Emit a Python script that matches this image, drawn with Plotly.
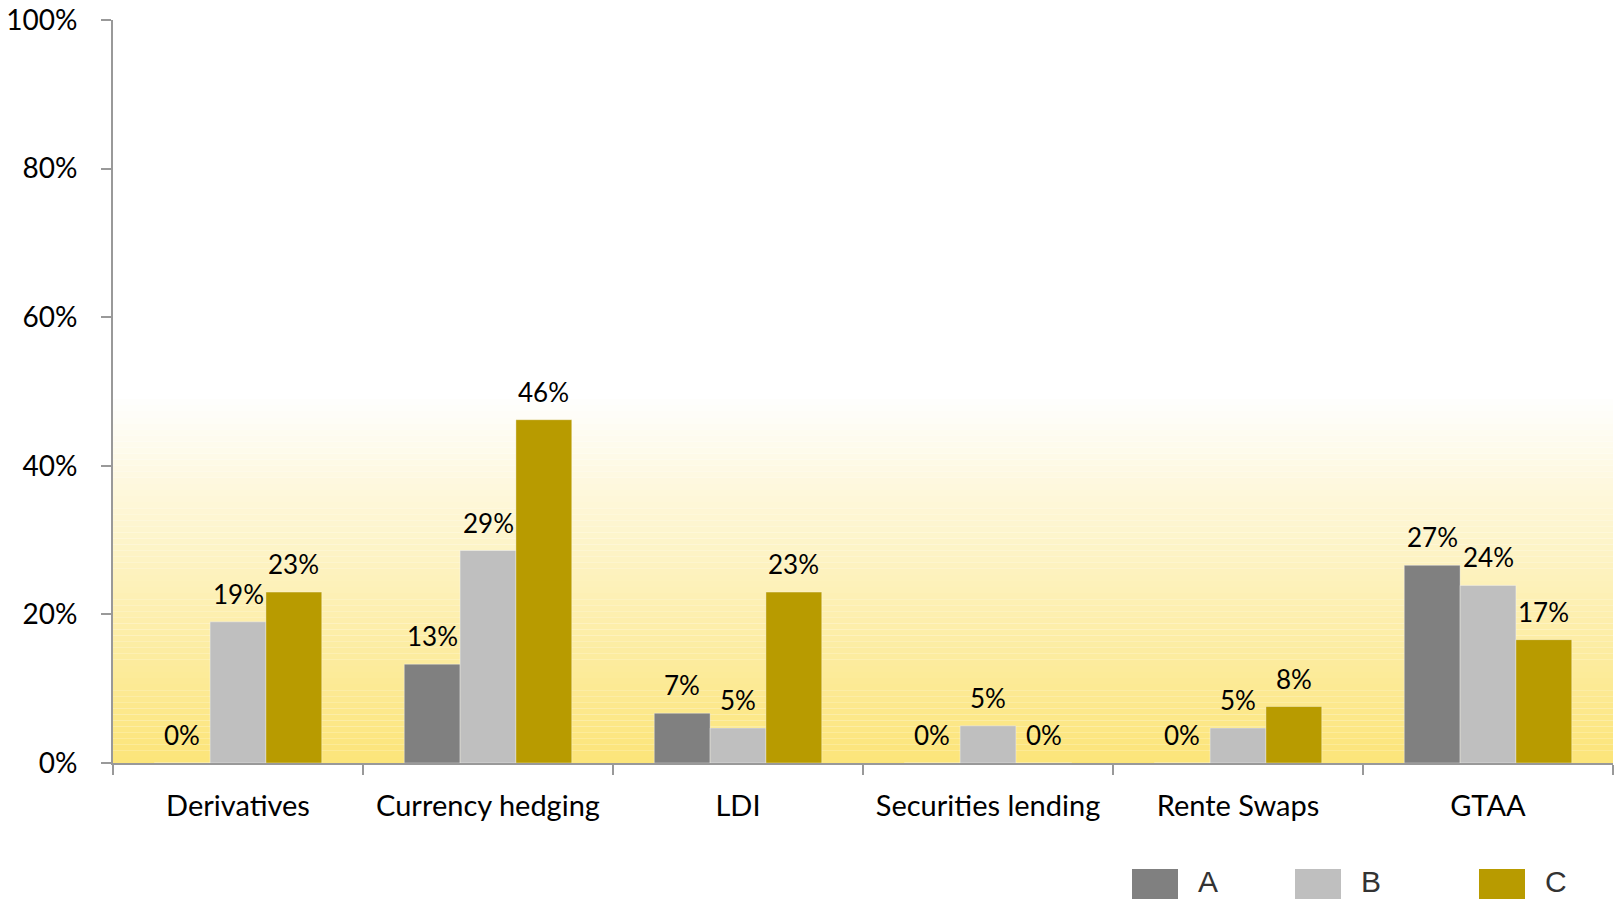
import plotly.graph_objects as go

categories = ['Derivatives', 'Currency hedging', 'LDI', 'Securities lending', 'Rente Swaps', 'GTAA']
series_names = ['A', 'B', 'C']
series_a = [0.0, 0.133, 0.067, 0.0, 0.0, 0.266]
series_b = [0.190, 0.286, 0.047, 0.050, 0.047, 0.239]
series_c = [0.230, 0.462, 0.230, 0.0, 0.076, 0.166]
y_ticks = [0, 0.2, 0.4, 0.6, 0.8, 1.0]
y_tick_text = ['0%', '20%', '40%', '60%', '80%', '100%']

colors = ['#808080', '#BFBFBF', '#B89B00']
font_family = 'Lato, Calibri, sans-serif'

W, H = 1618, 899
ml, mr, mt, mb = 113, 5, 20, 136
plot_w = W - ml - mr
plot_h = H - mt - mb
bargap = 0.33
bar_px = plot_w / len(categories) * (1 - bargap) / 3

fig = go.Figure()
for k, (name, vals) in enumerate(zip(series_names, [series_a, series_b, series_c])):
    fig.add_trace(go.Bar(
        x=categories, y=vals, name=name, showlegend=False,
        marker=dict(color=colors[k], line=dict(color='rgba(255,255,255,0.35)', width=1)),
    ))
    # value labels sitting a bit above each bar
    for cat, v in zip(categories, vals):
        fig.add_annotation(x=cat, y=v, text=f'{v:.0%}', showarrow=False,
                           xshift=(k - 1) * bar_px, yshift=28, yanchor='middle',
                           font=dict(family=font_family, size=26, color='black'))

# yellow gradient background in the lower half of the plot
steps = 60
top = 0.49
c0 = (252, 229, 122)
for i in range(steps):
    t = i / steps
    r = int(c0[0] + (255 - c0[0]) * t)
    g = int(c0[1] + (255 - c0[1]) * t)
    b = int(c0[2] + (255 - c0[2]) * t)
    fig.add_shape(type='rect', xref='paper', yref='y', x0=0, x1=1,
                  y0=top * i / steps, y1=top * (i + 1) / steps,
                  fillcolor=f'rgb({r},{g},{b})', line=dict(width=0), layer='below')

# legend with large swatches, bottom right (pixel offsets from plot left / bottom)
legend_x = [1019, 1182, 1366]
for k, name in enumerate(series_names):
    fig.add_shape(type='rect', xref='paper', yref='paper',
                  x0=legend_x[k] / plot_w, x1=(legend_x[k] + 46) / plot_w,
                  y0=-136 / plot_h, y1=-106 / plot_h,
                  fillcolor=colors[k], line=dict(width=0))
    fig.add_annotation(xref='paper', yref='paper', x=(legend_x[k] + 64) / plot_w,
                       y=-118 / plot_h, text=name, showarrow=False, xanchor='left', yanchor='middle',
                       font=dict(family='Liberation Sans, Arial, sans-serif', size=30, color='#333333'))

fig.update_layout(
    width=W, height=H,
    margin=dict(l=ml, r=mr, t=mt, b=mb),
    barmode='group', bargap=bargap, bargroupgap=0,
    plot_bgcolor='white', paper_bgcolor='white',
    showlegend=False,
    xaxis=dict(
        showline=True, linecolor='#999999', linewidth=2, automargin=False,
        ticks='outside', tickson='boundaries', ticklen=10, tickcolor='#999999', tickwidth=2,
        tickfont=dict(family=font_family, size=29, color='black'), ticklabelstandoff=16,
    ),
    yaxis=dict(
        range=[0, 1], tickvals=y_ticks, ticktext=y_tick_text, automargin=False,
        ticklabeloverflow='allow',
        showline=True, linecolor='#999999', linewidth=2,
        ticks='outside', ticklen=10, tickcolor='#999999', tickwidth=2,
        showgrid=False, zeroline=False,
        tickfont=dict(family=font_family, size=28, color='black'), ticklabelstandoff=18,
    ),
)

# drop the default page margin so the figure fills the window exactly
fig.write_html('out.html', config={'displayModeBar': False},
               post_script="document.body.style.margin='0';")
